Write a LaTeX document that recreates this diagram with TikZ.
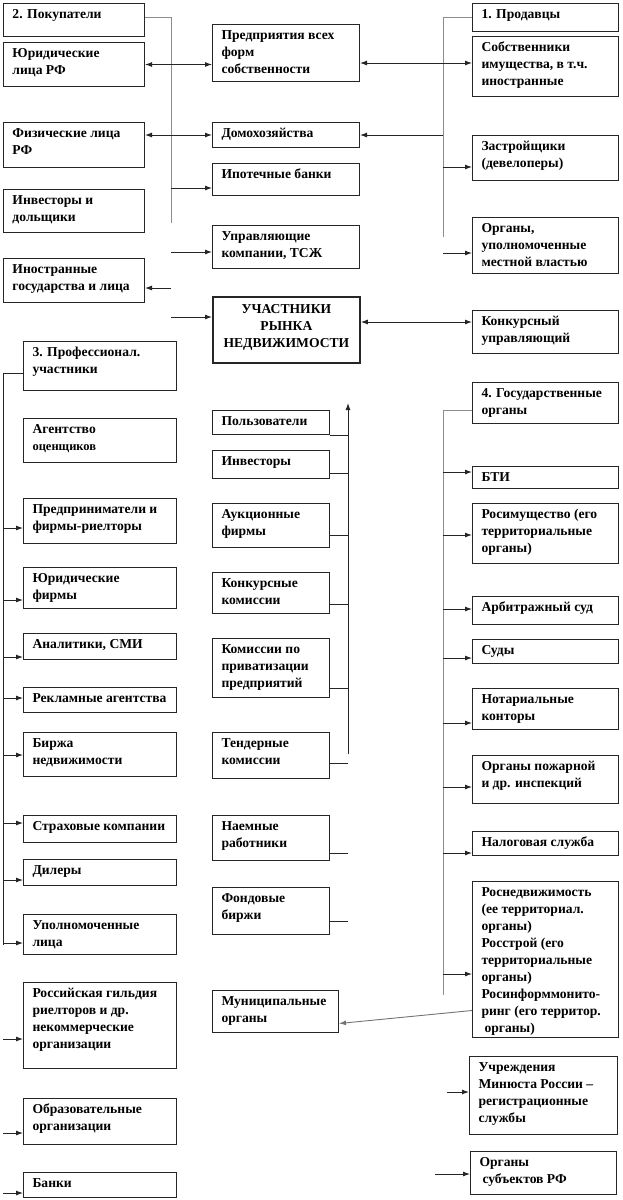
\documentclass[tikz,border=0pt]{standalone}
\usepackage{fontspec}
\setmainfont{Liberation Serif}
\usetikzlibrary{arrows.meta}
\tikzset{
 box/.style={draw=black!85, line width=1pt, anchor=north west, inner xsep=1pt, inner ysep=0pt, font={\fontsize{13.6}{17}\selectfont\bfseries}},
 ln/.style={draw=black!85, line width=0.9pt},
 gln/.style={draw=black!45, line width=1pt},
 arr/.style={ln, -{Latex[length=7pt,width=5pt]}},
 dbl/.style={ln, {Latex[length=7pt,width=5pt]}-{Latex[length=7pt,width=5pt]}},
}
\newcommand{\bx}[7][]{\node[box,#1] (#2) at (#3,#4) {\parbox[t][#6pt][t]{\dimexpr#5pt-2pt\relax}{\raggedright\leftskip=8pt\rule{0pt}{15pt}#7}};}
\begin{document}
\begin{tikzpicture}[x=1pt,y=-1pt]
\useasboundingbox (0,0) rectangle (622,1200);
% group 2
\bx{pok}{3}{3}{141}{33}{2. Покупатели}
\bx{yur}{3}{42}{141}{44}{Юридические\\лица РФ}
\bx{fiz}{3}{122}{141}{45}{Физические лица\\РФ}
\bx{inv2}{3}{189}{141}{43}{Инвесторы и\\дольщики}
\bx{ino}{3}{258}{141}{44}{Иностранные\\государства и лица}
% center top
\bx{pred}{212}{24}{147}{57}{Предприятия всех\\форм\\собственности}
\bx{dom}{212}{122}{147}{25}{Домохозяйства}
\bx{ipo}{212}{163}{147}{32}{Ипотечные банки}
\bx{upr}{212}{225}{147}{43}{Управляющие\\компании, ТСЖ}
\node[box, line width=1.8pt] (uch) at (212,296) {\parbox[t][66pt][t]{145pt}{\centering\rule{0pt}{16.5pt}УЧАСТНИКИ\\РЫНКА\\НЕДВИЖИМОСТИ}};
% group 1
\bx{prod}{472}{3}{146}{28}{1. Продавцы}
\bx{sob}{472}{36}{146}{60}{Собственники\\имущества, в т.ч.\\иностранные}
\bx{zas}{472}{135}{146}{45}{Застройщики\\(девелоперы)}
\bx{org}{472}{217}{146}{56}{Органы,\\уполномоченные\\местной властью}
\bx{konk}{472}{310}{146}{43}{Конкурсный\\управляющий}
% group 4
\bx{gos}{472}{382}{146}{41}{4. Государственные\\органы}
\bx{bti}{472}{466}{146}{22}{БТИ}
\bx{rim}{472}{503}{146}{60}{Росимущество (его\\территориальные\\органы)}
\bx{arb}{472}{596}{146}{28}{Арбитражный суд}
\bx{sud}{472}{639}{146}{24}{Суды}
\bx{nota}{472}{688}{146}{41}{Нотариальные\\конторы}
\bx{pozh}{472}{755}{146}{48}{Органы пожарной\\и др. инспекций}
\bx{nal}{472}{831}{146}{24}{Налоговая служба}
\bx{rnd}{472}{881}{146}{156}{Роснедвижимость\\(ее территориал.\\органы)\\Росстрой (его\\территориальные\\органы)\\Росинформмонито-\\ринг (его территор.\\\hspace*{3pt}органы)}
\bx{minj}{469}{1056}{148}{78}{Учреждения\\Минюста России –\\регистрационные\\службы}
\bx{subj}{470}{1151}{146}{43}{Органы\\\hspace*{3pt}субъектов РФ}
% center lower
\bx{polz}{212}{410}{117}{24}{Пользователи}
\bx{inv}{212}{450}{117}{28}{Инвесторы}
\bx{auk}{212}{503}{117}{44}{Аукционные\\фирмы}
\bx{konkk}{212}{572}{117}{41}{Конкурсные\\комиссии}
\bx{priv}{212}{638}{117}{59}{Комиссии по\\приватизации\\предприятий}
\bx{tend}{212}{732}{117}{46}{Тендерные\\комиссии}
\bx{naem}{212}{815}{117}{45}{Наемные\\работники}
\bx{fond}{212}{887}{117}{47}{Фондовые\\биржи}
\bx{mun}{212}{990}{126}{42}{Муниципальные\\органы}
% group 3
\bx{prof}{23}{341}{153}{49}{3. Профессионал.\\участники}
\bx{ocen}{23}{418}{153}{44}{Агентство\\{\fontsize{12.5}{17}\selectfont оценщиков}}
\bx{prea}{23}{498}{153}{45}{Предприниматели и\\фирмы-риелторы}
\bx{yurf}{23}{567}{153}{41}{Юридические\\фирмы}
\bx{anal}{23}{633}{153}{26}{Аналитики, СМИ}
\bx{rekl}{23}{687}{153}{25}{Рекламные агентства}
\bx{birzh}{23}{732}{153}{44}{Биржа\\недвижимости}
\bx{strah}{23}{815}{153}{27}{Страховые компании}
\bx{dil}{23}{859}{153}{26}{Дилеры}
\bx{upol}{23}{914}{153}{40}{Уполномоченные\\лица}
\bx{gild}{23}{982}{153}{86}{Российская гильдия\\риелторов и др.\\некоммерческие\\организации}
\bx{obr}{23}{1098}{153}{46}{Образовательные\\организации}
\bx{bank}{23}{1172}{153}{25}{Банки}
% connectors group 2
\coordinate (g2t) at (171,17); \coordinate (g2b) at (171,223);
\draw[gln] (pok.east |- g2t) -- (g2t) -- (g2b);
\draw[dbl] (yur.east) -- (yur.east -| pred.west);
\draw[dbl] (dom.west -| fiz.east) -- (dom.west);
\coordinate (a1) at (171,188); \draw[arr] (a1) -- (a1 -| ipo.west);
\coordinate (a2) at (171,252); \draw[arr] (a2) -- (a2 -| upr.west);
\coordinate (a3) at (171,288); \draw[arr] (a3) -- (a3 -| ino.east);
\coordinate (a4) at (171,317); \draw[arr] (a4) -- (a4 -| uch.west);
% group 1
\coordinate (g1t) at (443,17); \coordinate (g1b) at (443,237);
\draw[gln] (prod.west |- g1t) -- (g1t) -- (g1b);
\coordinate (b0) at (443,63); \draw[dbl] (b0 -| pred.east) -- (b0 -| sob.west);
\coordinate (b1) at (443,135); \draw[arr] (b1) -- (b1 -| dom.east);
\coordinate (b2) at (443,167); \draw[arr] (b2) -- (b2 -| zas.west);
\coordinate (b3) at (443,253); \draw[arr] (b3) -- (b3 -| org.west);
\coordinate (b4) at (443,322); \draw[dbl] (b4 -| uch.east) -- (b4 -| konk.west);
% group 4
\coordinate (g4t) at (443,410); \coordinate (g4b) at (443,995);
\draw[gln] (g4t -| gos.west) -- (g4t) -- (g4b);
\foreach \n/\y in {bti/472, rim/535, arb/609, sud/658, nota/723, pozh/787, nal/853, rnd/974}{
  \coordinate (c-\n) at (443,\y); \draw[arr] (c-\n) -- (c-\n -| \n.west);}
\coordinate (c-minj) at (447,1092); \draw[arr] (c-minj) -- (c-minj -| minj.west);
\coordinate (c-subj) at (435,1174); \draw[arr] (c-subj) -- (c-subj -| subj.west);
\draw[arr, draw=black!55] ([yshift=-51pt]rnd.west) -- ([yshift=-12pt]mun.east);
% center
\coordinate (e0) at (348,754); \coordinate (e1) at (348,403);
\draw[arr] (e0) -- (e1);
\draw[ln] (polz.south east) -- (polz.south east -| e0);
\foreach \n/\y in {inv/473, auk/535, konkk/604, priv/688, tend/763, naem/853, fond/921}{
  \coordinate (e-\n) at (348,\y); \draw[ln] (e-\n -| \n.east) -- (e-\n);}
% group 3
\coordinate (g3t) at (3,373); \coordinate (g3b) at (3,945);
\draw[ln] (g3t -| prof.west) -- (g3t) -- (g3b);
\foreach \n/\y in {prea/528, yurf/600, anal/657, rekl/698, birzh/755, strah/823, dil/880, upol/943, gild/1039, obr/1133, bank/1193}{
  \coordinate (f-\n) at (3,\y); \draw[arr] (f-\n) -- (f-\n -| \n.west);}
\end{tikzpicture}
\end{document}
